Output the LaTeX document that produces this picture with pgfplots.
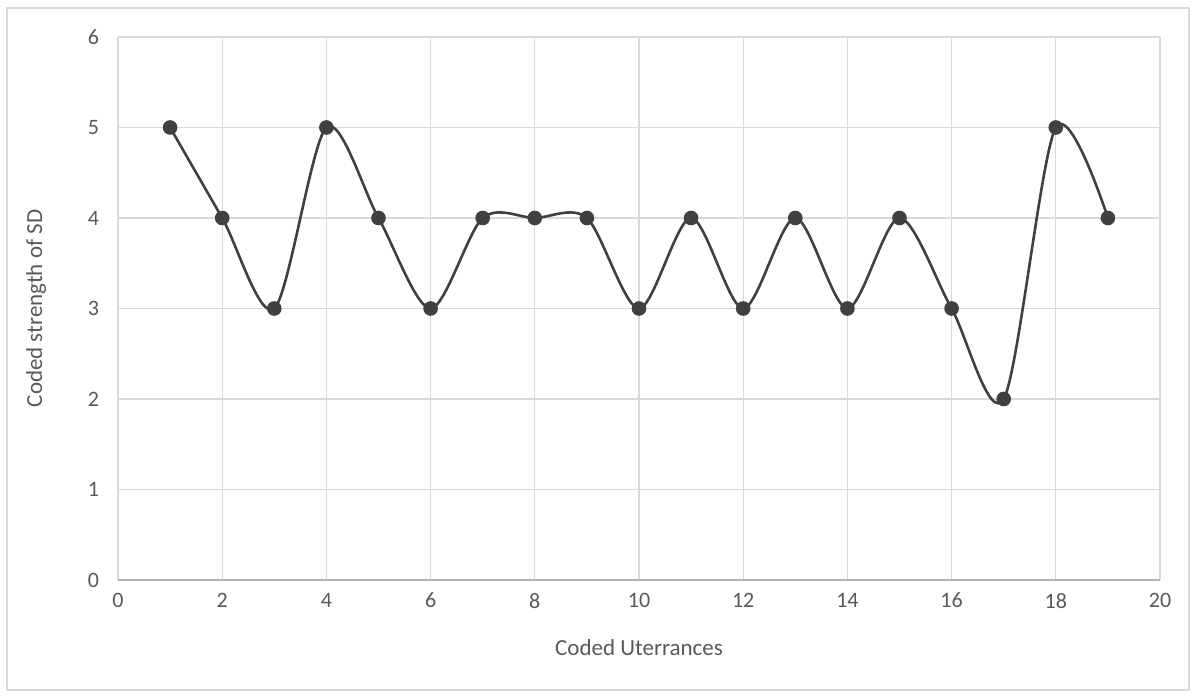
\documentclass[border=0pt]{standalone}
\usepackage{pgfplots}
\pgfplotsset{compat=1.18}
\usepackage{fontspec}
\setmainfont{Carlito}
\definecolor{txt}{HTML}{595959}
\definecolor{grd}{HTML}{D9D9D9}
\definecolor{ln}{HTML}{404040}
\begin{document}
\begin{tikzpicture}
\path[use as bounding box] (0,0) rectangle (598.5pt,348pt);
\draw[grd, line width=0.6pt] (3.5pt,3pt) rectangle (594.5pt,344pt);
\begin{axis}[
  at={(59pt,58pt)}, anchor=south west,
  scale only axis, width=521pt, height=271.5pt,
  xmin=0, xmax=20, ymin=0, ymax=6,
  xtick={0,2,...,20}, ytick={0,1,...,6},
  grid=major, major grid style={grd, line width=0.6pt},
  axis line style={draw=none},
  tick style={draw=none},
  ticklabel style={font=\fontsize{11}{13}\selectfont, text=txt},
  /pgf/number format/assume math mode=true,
  xlabel={Coded Uterrances}, ylabel={Coded strength of SD},
  label style={font=\fontsize{11.5}{14}\selectfont, text=txt},
  xlabel style={yshift=-9pt},
  ylabel style={yshift=14pt},
  xticklabel style={yshift=-3pt},
  yticklabel style={xshift=-6pt},
  clip=false,
]
\draw[gray!60, line width=0.8pt] (axis cs:0,0) -- (axis cs:20,0);
\addplot[ln, line width=1.3pt, smooth, tension=0.5, mark=*, mark size=3pt, mark options={fill=ln, draw=ln}] coordinates {
(1,5) (2,4) (3,3) (4,5) (5,4) (6,3) (7,4) (8,4) (9,4) (10,3)
(11,4) (12,3) (13,4) (14,3) (15,4) (16,3) (17,2) (18,5) (19,4)
};
\end{axis}
\end{tikzpicture}
\end{document}
